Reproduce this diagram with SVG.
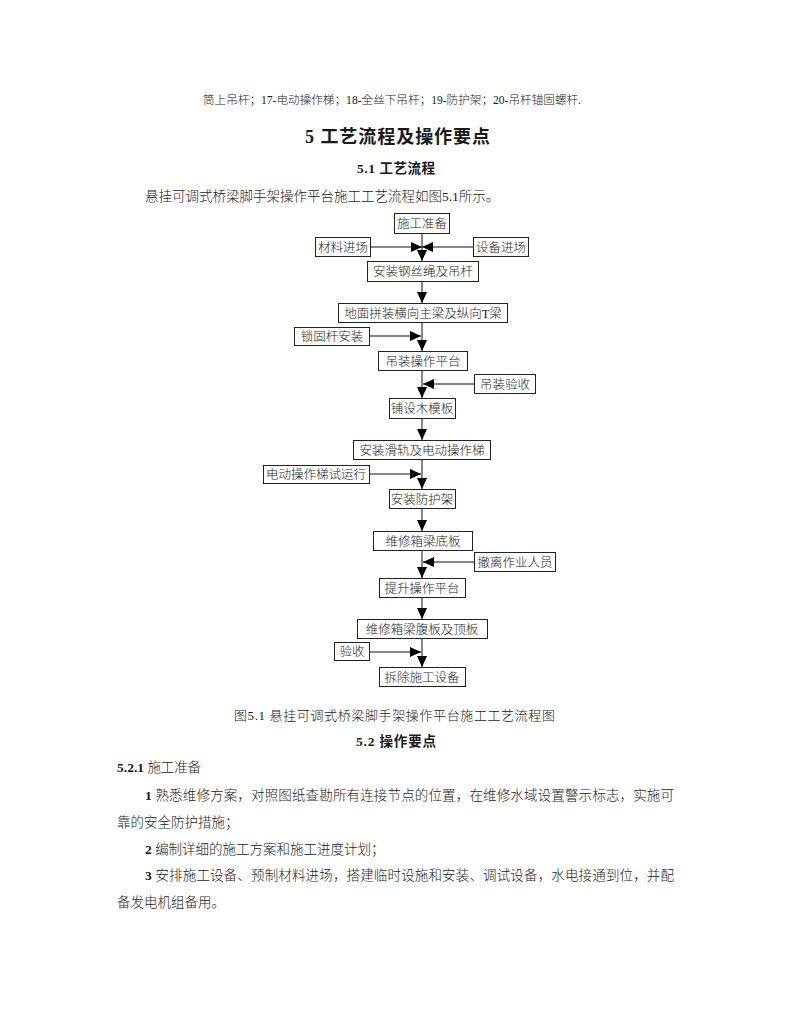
<svg xmlns="http://www.w3.org/2000/svg" width="791" height="1024" viewBox="0 0 791 1024">
<defs>
<style>
text{font-family:"Liberation Serif","Noto Sans CJK SC",serif;fill:#1a1a1a;font-weight:300;}
.b{font-weight:bold;}
.body{font-size:13.5px;}
.box rect{fill:#fff;stroke:#222;stroke-width:1;}
.box text{font-size:12.5px;text-anchor:middle;}
.conn line{stroke:#111;stroke-width:1;}
.conn polygon{fill:#000;}
</style>
</defs>
<rect width="791" height="1024" fill="#fff"/>
<text x="203" y="104" font-size="11.5" textLength="378" lengthAdjust="spacingAndGlyphs">筒上吊杆；17-电动操作梯；18-全丝下吊杆；19-防护架；20-吊杆锚固螺杆.</text>
<text x="305" y="143" font-size="18" class="b" textLength="185" lengthAdjust="spacing">5  工艺流程及操作要点</text>
<text x="357" y="173" font-size="13.5" class="b" textLength="78" lengthAdjust="spacing">5.1  工艺流程</text>
<text x="145" y="201" class="body">悬挂可调式桥梁脚手架操作平台施工工艺流程如图5.1所示。</text>

<g class="conn">
<line x1="422" y1="233" x2="422" y2="261"/>
<polygon points="417,250 427,250 422,261"/>
<line x1="370" y1="247" x2="422" y2="247"/>
<polygon points="411,242 411,252 422,247"/>
<line x1="473" y1="247" x2="422" y2="247"/>
<polygon points="433,242 433,252 422,247"/>
<line x1="422" y1="281" x2="422" y2="303"/>
<polygon points="417,292 427,292 422,303"/>
<line x1="422" y1="322" x2="422" y2="351"/>
<polygon points="417,340 427,340 422,351"/>
<line x1="369" y1="336" x2="421" y2="336"/>
<polygon points="410,331 410,341 421,336"/>
<line x1="422" y1="370" x2="422" y2="398"/>
<polygon points="417,387 427,387 422,398"/>
<line x1="474" y1="384" x2="423" y2="384"/>
<polygon points="434,379 434,389 423,384"/>
<line x1="422" y1="418" x2="422" y2="440"/>
<polygon points="417,429 427,429 422,440"/>
<line x1="422" y1="460" x2="422" y2="489"/>
<polygon points="417,478 427,478 422,489"/>
<line x1="369" y1="474" x2="421" y2="474"/>
<polygon points="410,469 410,479 421,474"/>
<line x1="422" y1="508" x2="422" y2="531"/>
<polygon points="417,520 427,520 422,531"/>
<line x1="422" y1="550" x2="422" y2="578"/>
<polygon points="417,567 427,567 422,578"/>
<line x1="474" y1="562" x2="423" y2="562"/>
<polygon points="434,557 434,567 423,562"/>
<line x1="422" y1="597" x2="422" y2="619"/>
<polygon points="417,608 427,608 422,619"/>
<line x1="422" y1="638" x2="422" y2="667"/>
<polygon points="417,656 427,656 422,667"/>
<line x1="369" y1="652" x2="421" y2="652"/>
<polygon points="410,647 410,657 421,652"/>
</g>

<g id="n1" class="box"><rect x="394.5" y="213.5" width="55" height="20"/><text x="422" y="228">施工准备</text></g>
<g id="n2" class="box"><rect x="315.5" y="237.5" width="55" height="19"/><text x="343" y="252">材料进场</text></g>
<g id="n3" class="box"><rect x="473.5" y="237.5" width="55" height="19"/><text x="501" y="252">设备进场</text></g>
<g id="n4" class="box"><rect x="367.5" y="261.5" width="111" height="20"/><text x="423" y="276">安装钢丝绳及吊杆</text></g>
<g id="n5" class="box"><rect x="338.5" y="303.5" width="169" height="19"/><text x="423" y="318">地面拼装横向主梁及纵向T梁</text></g>
<g id="n6" class="box"><rect x="294.5" y="327.5" width="75" height="18"/><text x="332" y="341">锁固杆安装</text></g>
<g id="n7" class="box"><rect x="378.5" y="351.5" width="89" height="19"/><text x="423" y="366">吊装操作平台</text></g>
<g id="n8" class="box"><rect x="474.5" y="374.5" width="61" height="19"/><text x="505" y="389">吊装验收</text></g>
<g id="n9" class="box"><rect x="389.5" y="398.5" width="66" height="20"/><text x="422" y="413">铺设木模板</text></g>
<g id="n10" class="box"><rect x="353.5" y="440.5" width="137" height="19"/><text x="422" y="455">安装滑轨及电动操作梯</text></g>
<g id="n11" class="box"><rect x="263.5" y="465.5" width="106" height="18"/><text x="316" y="479">电动操作梯试运行</text></g>
<g id="n12" class="box"><rect x="389.5" y="489.5" width="66" height="19"/><text x="422" y="504">安装防护架</text></g>
<g id="n13" class="box"><rect x="373.5" y="531.5" width="99" height="19"/><text x="423" y="546">维修箱梁底板</text></g>
<g id="n14" class="box"><rect x="474.5" y="552.5" width="81" height="19"/><text x="515" y="567">撤离作业人员</text></g>
<g id="n15" class="box"><rect x="379.5" y="578.5" width="86" height="19"/><text x="422" y="593">提升操作平台</text></g>
<g id="n16" class="box"><rect x="357.5" y="619.5" width="130" height="19"/><text x="422" y="634">维修箱梁腹板及顶板</text></g>
<g id="n17" class="box"><rect x="334.5" y="642.5" width="35" height="18"/><text x="352" y="656">验收</text></g>
<g id="n18" class="box"><rect x="379.5" y="667.5" width="86" height="19"/><text x="422" y="682">拆除施工设备</text></g>

<text x="234" y="720" font-size="13" textLength="321" lengthAdjust="spacing">图5.1  悬挂可调式桥梁脚手架操作平台施工工艺流程图</text>
<text x="356" y="746" font-size="13.5" class="b" textLength="80" lengthAdjust="spacing">5.2  操作要点</text>
<text x="117" y="772" class="body"><tspan class="b">5.2.1</tspan> 施工准备</text>
<text x="145" y="800" class="body" textLength="529" lengthAdjust="spacing"><tspan class="b">1</tspan> 熟悉维修方案，对照图纸查勘所有连接节点的位置，在维修水域设置警示标志，实施可</text>
<text x="117" y="827" class="body">靠的安全防护措施；</text>
<text x="145" y="854" class="body"><tspan class="b">2</tspan> 编制详细的施工方案和施工进度计划；</text>
<text x="145" y="880" class="body" textLength="529" lengthAdjust="spacing"><tspan class="b">3</tspan> 安排施工设备、预制材料进场，搭建临时设施和安装、调试设备，水电接通到位，并配</text>
<text x="117" y="907" class="body">备发电机组备用。</text>
</svg>
